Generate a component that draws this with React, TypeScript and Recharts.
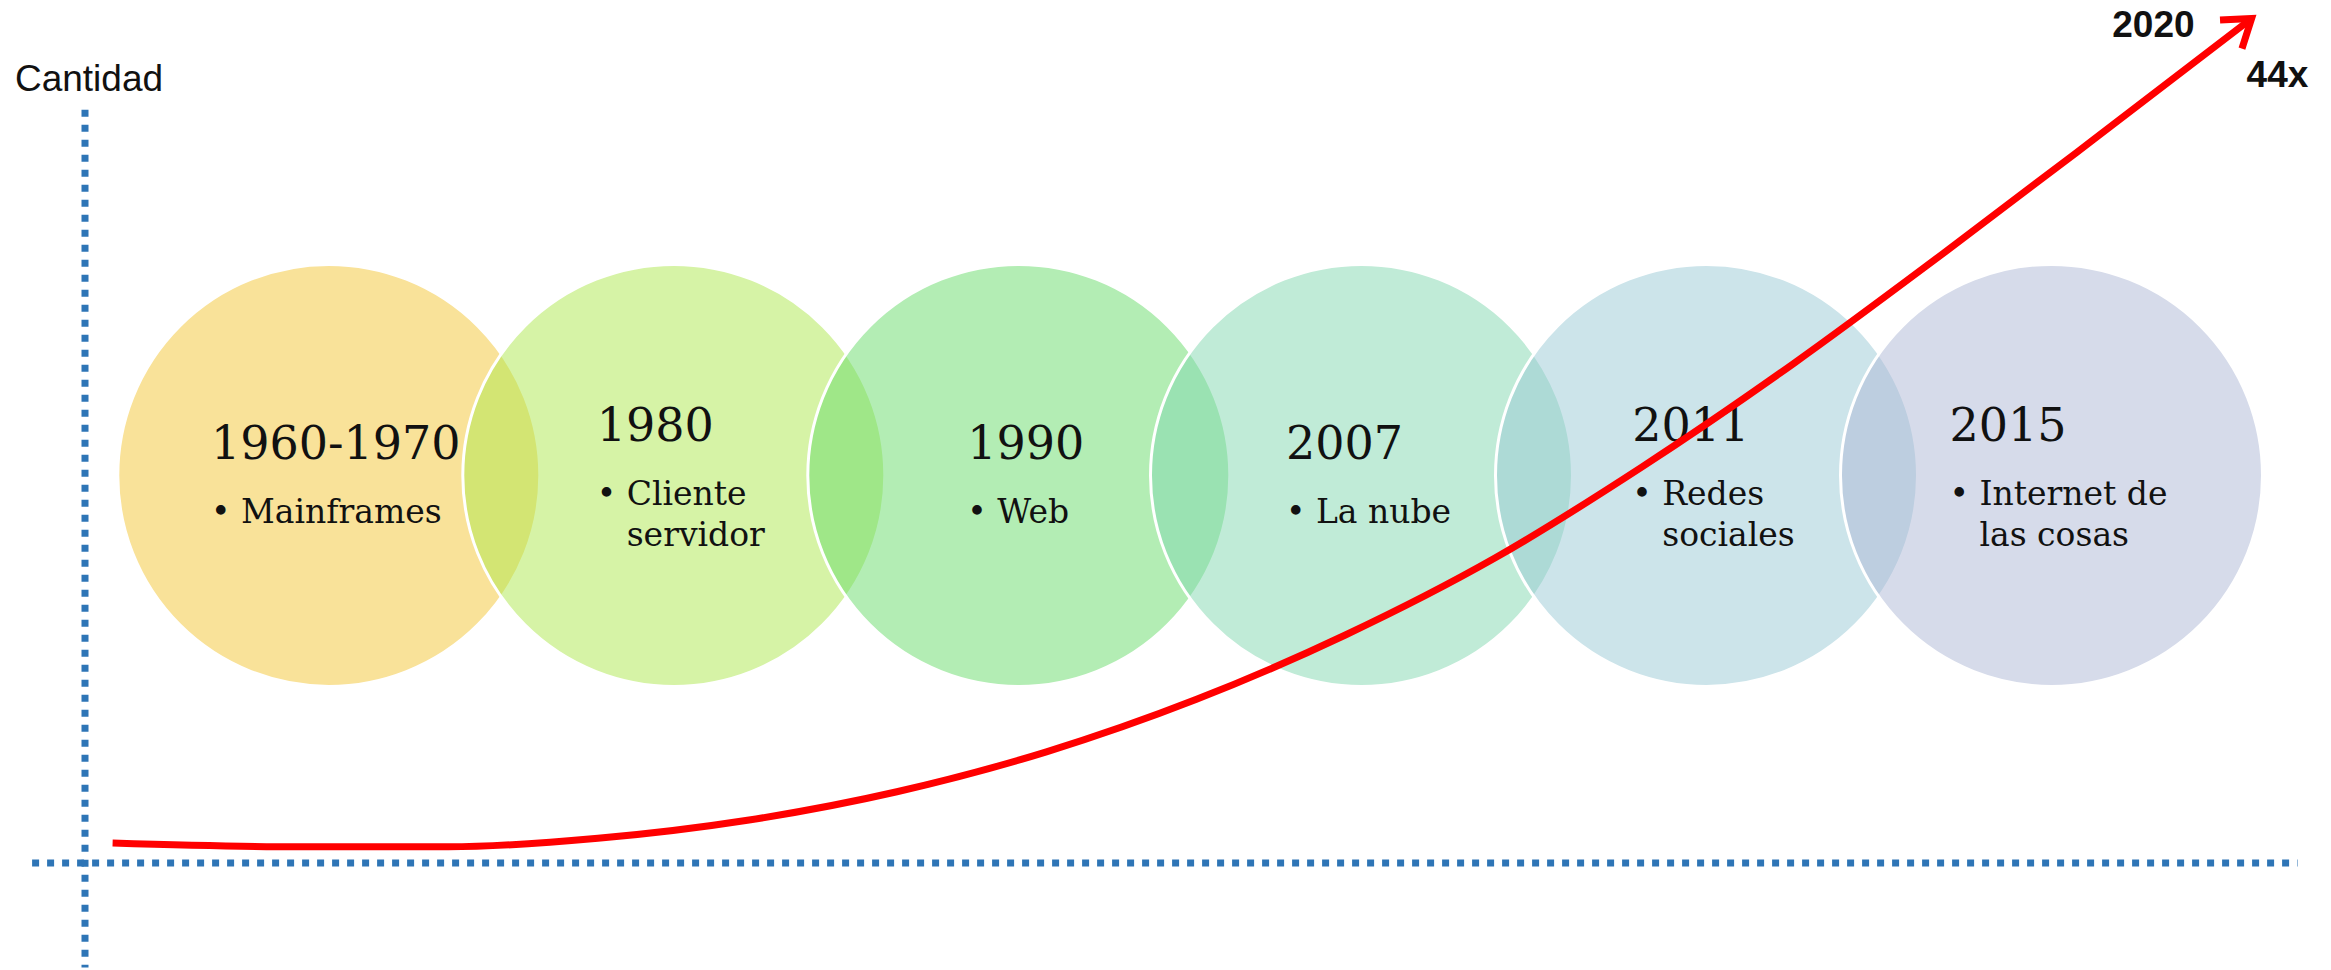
import React from "react";
import {
  ComposedChart,
  Scatter,
  Line,
  XAxis,
  YAxis,
  ReferenceLine,
  ReferenceDot,
} from "recharts";

// eras shown as bubbles along the timeline
const eraYears = ["1960-1970", "1980", "1990", "2007", "2011", "2015"];
const eraLabels = [
  ["Mainframes"],
  ["Cliente", "servidor"],
  ["Web"],
  ["La nube"],
  ["Redes", "sociales"],
  ["Internet de", "las cosas"],
];
const eraX = [10.6, 25.6, 40.6, 55.5, 70.5, 85.5];
const eraY = [40.8, 40.8, 40.8, 40.8, 40.8, 40.8];
const eraColors = ["#F3C533", "#ADE74D", "#67DB69", "#81D7AF", "#99C9D5", "#ADB7D5"];

// growth curve (cantidad over time)
const growthX = [1.2, 9.3, 15.8, 22.3, 28.8, 35.3, 41.8, 48.3, 54.8, 61.3, 67.7, 74.3, 80.7, 87.3, 94.2];
const growthY = [2.1, 1.7, 1.7, 2.6, 4.5, 7.5, 11.7, 17.2, 24.0, 32.1, 41.7, 52.6, 64.0, 76.1, 88.9];

const yAxisTitle = "Cantidad";
const endYear = "2020";
const endFactor = "44x";

// axis extents
const xAxisFrom = -2.3;
const xAxisTo = 96.2;
const yAxisTop = 79.3;
const yAxisBottom = -11;

const eras = eraYears.map((year, i) => ({
  x: eraX[i],
  y: eraY[i],
  year,
  lines: eraLabels[i],
  color: eraColors[i],
}));

const growth = growthX.map((x, i) => ({ x, y: growthY[i] }));

const SERIF = "'DejaVu Serif', Georgia, serif";
const SANS = "'Liberation Sans', Arial, sans-serif";
const YEAR_SIZE = 46;
const ITEM_SIZE = 33;
const BULLET_INDENT = 30;

let ctx: CanvasRenderingContext2D | null = null;
function textWidth(s: string, size: number) {
  if (!ctx && typeof document !== "undefined") {
    ctx = document.createElement("canvas").getContext("2d");
  }
  if (!ctx) return s.length * size * 0.6;
  ctx.font = `${size}px 'DejaVu Serif'`;
  return ctx.measureText(s).width;
}

const EraBubble = (props: any) => {
  const { cx, cy, payload } = props;
  if (cx == null || cy == null) return null;
  const lines: string[] = payload.lines;
  const blockW = Math.max(
    textWidth(payload.year, YEAR_SIZE),
    ...lines.map((l) => BULLET_INDENT + textWidth(l, ITEM_SIZE))
  );
  const left = cx - blockW / 2 + 7;
  const yearBase = cy - 16 - 18 * (lines.length - 1);
  return (
    <g>
      <circle
        cx={cx}
        cy={cy}
        r={211}
        fill={payload.color}
        fillOpacity={0.5}
        stroke="#ffffff"
        strokeWidth={3}
      />
      <text x={left} y={yearBase} fontFamily={SERIF} fontSize={YEAR_SIZE} fill="#111">
        {payload.year}
      </text>
      <text x={left} y={yearBase + 64} fontFamily={SERIF} fontSize={ITEM_SIZE} fill="#111">
        •
      </text>
      {lines.map((l, i) => (
        <text
          key={i}
          x={left + BULLET_INDENT}
          y={yearBase + 64 + i * 41}
          fontFamily={SERIF}
          fontSize={ITEM_SIZE}
          fill="#111"
        >
          {l}
        </text>
      ))}
    </g>
  );
};

const last = growth[growth.length - 1];

export default function App() {
  return (
    <div style={{ position: "absolute", left: 0, top: 0, background: "#fff" }}>
      <svg width={0} height={0} style={{ position: "absolute" }}>
        <defs>
          <marker
            id="growthArrow"
            markerUnits="userSpaceOnUse"
            viewBox="0 0 44 44"
            markerWidth={44}
            markerHeight={44}
            refX={37}
            refY={22}
            orient="auto"
            overflow="visible"
          >
            <path d="M 11 4 L 37 22 L 11 40" fill="none" stroke="#FF0000" strokeWidth={7} />
          </marker>
        </defs>
      </svg>
      <ComposedChart
        width={2331}
        height={970}
        margin={{ top: 17.5, right: 15, bottom: 2.5, left: 16 }}
      >
        <XAxis dataKey="x" type="number" domain={[-3, 97]} tickCount={101} hide />
        <YAxis type="number" domain={[-11, 89]} tickCount={101} hide />

        <Scatter data={eras} dataKey="y" shape={EraBubble} isAnimationActive={false} zIndex={300} />

        <ReferenceLine
          segment={[
            { x: xAxisFrom, y: 0 },
            { x: xAxisTo, y: 0 },
          ]}
          stroke="#2E75B6"
          strokeWidth={7}
          strokeDasharray="7 8"
        />
        <ReferenceLine
          segment={[
            { x: 0, y: yAxisTop },
            { x: 0, y: yAxisBottom },
          ]}
          stroke="#2E75B6"
          strokeWidth={7}
          strokeDasharray="7 8"
        />

        <Line
          data={growth}
          dataKey="y"
          type="monotone"
          stroke="#FF0000"
          strokeWidth={7}
          dot={false}
          activeDot={false}
          markerEnd="url(#growthArrow)"
          isAnimationActive={false}
          zIndex={900}
        />

        <ReferenceDot
          x={0}
          y={yAxisTop}
          r={1}
          fill="none"
          stroke="none"
          label={(p: any) => {
            const vb = p.viewBox || {};
            const x = (vb.x ?? 0) + (vb.width ?? 0) / 2;
            const y = (vb.y ?? 0) + (vb.height ?? 0) / 2;
            return (
              <text x={x + 4} y={y - 19} textAnchor="middle" fontFamily={SANS} fontSize={37} fill="#111">
                {yAxisTitle}
              </text>
            );
          }}
        />
        <ReferenceDot
          x={last.x}
          y={last.y}
          r={1}
          fill="none"
          stroke="none"
          label={(p: any) => {
            const vb = p.viewBox || {};
            const x = (vb.x ?? 0) + (vb.width ?? 0) / 2;
            const y = (vb.y ?? 0) + (vb.height ?? 0) / 2;
            return (
              <g fontFamily={SANS} fontSize={37} fontWeight="bold" fill="#111">
                <text x={x - 57} y={y + 19} textAnchor="end">
                  {endYear}
                </text>
                <text x={x - 5} y={y + 69}>
                  {endFactor}
                </text>
              </g>
            );
          }}
        />
      </ComposedChart>
    </div>
  );
}
